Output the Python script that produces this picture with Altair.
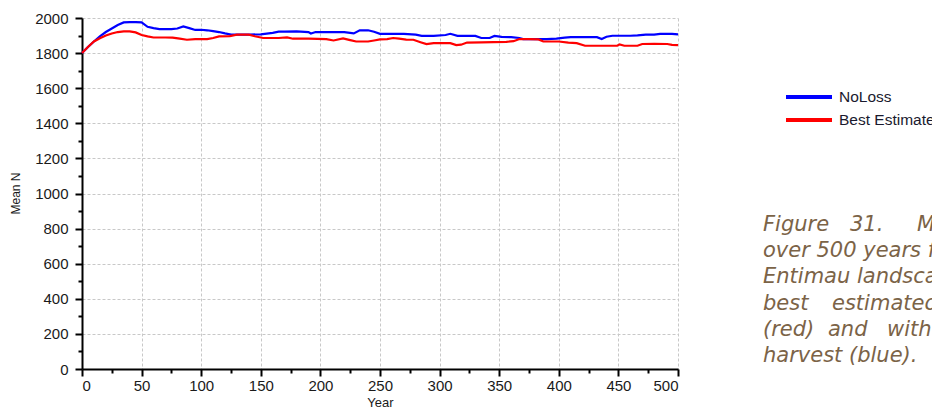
import altair as alt
import pandas as pd

# ---- data ----
noloss_years = [0, 5, 10, 15, 20, 25, 30, 35, 40, 45, 50, 55, 60, 65, 70, 75, 80, 85, 90, 95,
                100, 105, 110, 115, 120, 125, 130, 140, 150, 160, 165, 170, 180, 190, 192, 196,
                210, 220, 228, 233, 240, 245, 250, 260, 270, 280, 285, 295, 305, 309, 315, 330,
                335, 342, 346, 352, 360, 367, 370, 380, 390, 398, 405, 410, 420, 432, 436, 440,
                445, 460, 466, 473, 480, 485, 495, 500]
noloss_values = [1800, 1835, 1866, 1895, 1920, 1940, 1960, 1975, 1977, 1977, 1975, 1950, 1942,
                 1937, 1937, 1937, 1940, 1952, 1942, 1932, 1933, 1930, 1925, 1920, 1912, 1905,
                 1905, 1905, 1907, 1915, 1922, 1922, 1924, 1920, 1912, 1920, 1920, 1920, 1912,
                 1930, 1930, 1922, 1910, 1910, 1910, 1905, 1898, 1898, 1903, 1910, 1898, 1898,
                 1886, 1886, 1898, 1892, 1891, 1886, 1880, 1880, 1880, 1882, 1888, 1891, 1891,
                 1891, 1880, 1893, 1899, 1899, 1901, 1905, 1905, 1910, 1910, 1907]

best_years = [0, 5, 10, 15, 20, 25, 30, 35, 40, 45, 50, 55, 60, 70, 76, 82, 88, 95, 105, 110,
              115, 124, 130, 140, 145, 152, 165, 172, 177, 190, 205, 211, 219, 225, 230, 240,
              245, 250, 256, 261, 266, 272, 278, 284, 289, 295, 309, 314, 318, 323, 335, 345,
              356, 362, 367, 375, 383, 387, 400, 408, 415, 422, 435, 449, 451, 455, 466, 470,
              480, 491, 495, 500]
best_values = [1800, 1835, 1866, 1885, 1900, 1912, 1920, 1924, 1924, 1918, 1903, 1895, 1889,
               1889, 1888, 1882, 1876, 1880, 1880, 1886, 1895, 1897, 1905, 1905, 1896, 1886,
               1886, 1889, 1882, 1882, 1880, 1872, 1884, 1874, 1866, 1866, 1872, 1878, 1880,
               1886, 1882, 1877, 1876, 1862, 1851, 1857, 1857, 1846, 1848, 1860, 1861, 1863,
               1864, 1868, 1880, 1880, 1878, 1866, 1866, 1860, 1857, 1842, 1842, 1842, 1850,
               1842, 1842, 1852, 1853, 1852, 1847, 1845]

series_names = ["NoLoss", "Best Estimate"]
series_colors = ["#0000ff", "#ff0000"]

x_major = list(range(0, 501, 50))
x_minor = list(range(25, 500, 50))
y_major = list(range(0, 2001, 200))
y_minor = list(range(100, 2000, 200))

caption_color = "#7b6347"

df = pd.concat([
    pd.DataFrame({"Year": noloss_years, "MeanN": noloss_values, "Series": "NoLoss"}),
    pd.DataFrame({"Year": best_years, "MeanN": best_values, "Series": "Best Estimate"}),
], ignore_index=True)

LABEL_FONT = "Liberation Sans"

x_scale = alt.Scale(domain=[0, 500], nice=False)
y_scale = alt.Scale(domain=[0, 2000], nice=False)

lines = alt.Chart(df).mark_line(strokeWidth=2.2).encode(
    x=alt.X("Year:Q", scale=x_scale, axis=alt.Axis(
        values=x_major, format="d", title="Year", grid=True, gridDash=[3, 2],
        gridColor="#c8c8c8",
        domainColor="black", domainWidth=2, tickColor="black", tickWidth=2, tickSize=7,
        labelFont=LABEL_FONT, labelFontSize=15, labelColor="#1a1a1a", labelPadding=2,
        titleFont=LABEL_FONT, titleFontSize=13, titleFontWeight="normal", titleColor="#1a1a1a",
        titleY=37, titleBaseline="alphabetic")),
    y=alt.Y("MeanN:Q", scale=y_scale, axis=alt.Axis(
        values=y_major, format="d", title="Mean N", grid=True, gridDash=[3, 2],
        gridColor="#c8c8c8",
        domainColor="black", domainWidth=2, tickColor="black", tickWidth=2, tickSize=7,
        labelFont=LABEL_FONT, labelFontSize=15, labelColor="#1a1a1a", labelPadding=7,
        titleFont=LABEL_FONT, titleFontSize=12, titleFontWeight="normal", titleColor="#1a1a1a",
        titleX=-67, titleY=175, titleBaseline="middle")),
    color=alt.Color("Series:N",
                    scale=alt.Scale(domain=series_names, range=series_colors),
                    sort=series_names,
                    legend=alt.Legend(orient="none", legendX=702, legendY=71, title=None,
                                      symbolType="stroke", symbolSize=2116,
                                      symbolStrokeWidth=4, labelFont=LABEL_FONT,
                                      labelFontSize=15.5, labelColor="#1a1a2e",
                                      labelOffset=5, rowPadding=6, clipHeight=16)),
)

minor = alt.Chart(df).mark_line(opacity=0).encode(
    x=alt.X("Year:Q", scale=x_scale, axis=alt.Axis(
        values=x_minor, orient="bottom", title=None, labels=False, grid=False, domain=False,
        tickColor="black", tickWidth=2, tickSize=4)),
    y=alt.Y("MeanN:Q", scale=y_scale, axis=alt.Axis(
        values=y_minor, orient="left", title=None, labels=False, grid=False, domain=False,
        tickColor="black", tickWidth=2, tickSize=4)),
    detail="Series:N",
)


def caption(text, px, py):
    return alt.Chart(pd.DataFrame({"t": [text]})).mark_text(
        align="left", baseline="alphabetic", font="DejaVu Sans", fontStyle="italic",
        fontSize=21, color=caption_color
    ).encode(text="t:N", x=alt.value(px), y=alt.value(py))


caption_layers = [
    caption("Figure", 681, 213), caption("31.", 768, 213), caption("Mean", 835, 213),
    caption("over 500 years for", 681, 239),
    caption("Entimau landscape", 681, 265),
    caption("best", 681, 292), caption("estimated", 750, 292),
    caption("(red)", 681, 318), caption("and", 746, 318), caption("with", 805, 318),
    caption("harvest (blue).", 681, 344),
]

chart = alt.layer(lines, minor, *caption_layers).resolve_axis(
    x="independent", y="independent"
).properties(
    width=596, height=351,
    autosize=alt.AutoSizeParams(type="none"),
    padding={"left": 74, "top": 10, "right": 254, "bottom": 41},
).configure_view(stroke=None)

chart.save("out.html", embed_options={"renderer": "svg", "actions": False})
